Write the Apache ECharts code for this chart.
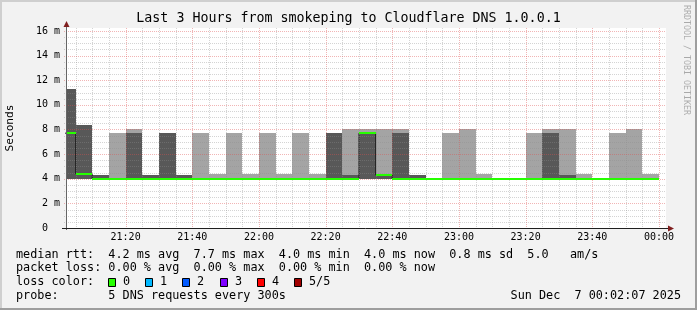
<!DOCTYPE html>
<html><head><meta charset="utf-8">
<script src="https://cdn.jsdelivr.net/npm/echarts@6/dist/echarts.min.js"></script>
<style>html,body{margin:0;padding:0;background:#f2f2f2}#c{width:697px;height:310px}</style>
</head><body><div id="c"></div>
<script>
// ---------------- data ----------------
const windowStart = '21:02:07';
const windowMinutes = 180;
const binStartTimes = ['21:00','21:05','21:10','21:15','21:20','21:25','21:30','21:35','21:40','21:45','21:50','21:55',
  '22:00','22:05','22:10','22:15','22:20','22:25','22:30','22:35','22:40','22:45','22:50','22:55',
  '23:00','23:05','23:10','23:15','23:20','23:25','23:30','23:35','23:40','23:45','23:50','23:55'];
const binMinutes = 5;
// smoke layers, ms
const smokeMin       = [4.0,4.0,4.0,4.0,4.0,4.0,4.0,4.0,4.0,4.0,4.0,4.0, 4.0,4.0,4.0,4.0,4.0,4.0,4.0,4.0,4.0,4.0,4.0,4.0, 4.0,4.0,4.0,4.0,4.0,4.0,4.0,4.0,4.0,4.0,4.0,4.0];
const smokeInnerLow  = [4.0,4.0,4.0,4.0,4.0,4.0,4.0,4.0,4.0,4.0,4.0,4.0, 4.0,4.0,4.0,4.0,4.0,4.0,4.0,4.0,4.0,4.0,4.0,4.0, 4.0,4.0,4.0,4.0,4.0,4.0,4.0,4.0,4.0,4.0,4.0,4.0];
const medianRtt      = [7.7,4.4,4.0,4.0,4.0,4.0,4.0,4.0,4.0,4.0,4.0,4.0, 4.0,4.0,4.0,4.0,4.0,4.0,7.7,4.3,4.0,4.0,4.0,4.0, 4.0,4.0,4.0,4.0,4.0,4.0,4.0,4.0,4.0,4.0,4.0,4.0];
const smokeInnerHigh = [11.3,8.4,4.3,4.0,7.7,4.3,7.7,4.3,4.0,4.0,4.0,4.0, 4.0,4.0,4.0,4.0,7.7,4.3,7.7,4.3,7.7,4.3,4.0,4.0, 4.0,4.0,4.0,4.0,4.0,7.7,4.3,4.0,4.0,4.0,4.0,4.0];
const smokeMax       = [11.3,8.4,4.3,7.7,8.0,4.3,7.7,4.3,7.7,4.4,7.7,4.4, 7.7,4.4,7.7,4.4,7.7,8.0,8.0,8.0,8.0,4.3,4.0,7.7, 8.0,4.4,4.0,4.0,7.7,8.0,8.0,4.4,4.0,7.7,8.0,4.4];
const xTickLabels = ['21:20','21:40','22:00','22:20','22:40','23:00','23:20','23:40','00:00'];
const yTickValues = [0,2,4,6,8,10,12,14,16];
const yTickLabels = ['0  ','2 m','4 m','6 m','8 m','10 m','12 m','14 m','16 m'];
const yMax = 16.24;
const lossLabels = ['0','1','2','3','4','5/5'];
const lossColors = ['#26ff00','#00b8ff','#0059ff','#7e00ff','#ff0000','#a10000'];
const titleText = 'Last 3 Hours from smokeping to Cloudflare DNS 1.0.0.1';
const statsLines = [
  'median rtt:  4.2 ms avg  7.7 ms max  4.0 ms min  4.0 ms now  0.8 ms sd  5.0   am/s',
  'packet loss: 0.00 % avg  0.00 % max  0.00 % min  0.00 % now',
  'loss color:',
  'probe:       5 DNS requests every 300s'
];
const dateText = 'Sun Dec  7 00:02:07 2025';

// ---------------- helpers ----------------
const FONT = '"DejaVu Sans Mono", monospace';
function toMin(t) {
  const p = t.split(':').map(Number);
  const h = p[0] < 12 ? p[0] + 24 : p[0];
  return h * 60 + p[1] + (p[2] || 0) / 60 - 21 * 60;
}
const xMin = toMin(windowStart);
const xMax = xMin + windowMinutes;
const xTickMinutes = xTickLabels.map(toMin);

const lightData = [], darkData = [], greenData = [], blackLine = [];
binStartTimes.forEach((t, i) => {
  const s = toMin(t), e = s + binMinutes;
  lightData.push([s, e, smokeMin[i], smokeMax[i]]);
  darkData.push([s, e, smokeInnerLow[i], smokeInnerHigh[i]]);
  greenData.push([s, e, medianRtt[i]]);
  blackLine.push([s, medianRtt[i]]);
  if (i === binStartTimes.length - 1) blackLine.push([e, medianRtt[i]]);
});

const gridData = [];
for (let m = binMinutes; m <= windowMinutes; m += binMinutes) gridData.push([m, 0, m % 20 === 0 ? 1 : 0]);
for (let v = 0.5; v <= 16; v += 0.5) gridData.push([v, 1, v % 2 === 0 ? 1 : 0]);

function smokeRender(color) {
  return function (params, api) {
    if (api.value(3) <= api.value(2)) return null;
    const s = Math.max(api.value(0), xMin);
    const p1 = api.coord([s, api.value(3)]);
    const p2 = api.coord([api.value(1), api.value(2)]);
    const x0 = Math.round(p1[0]), x1 = Math.round(p2[0]);
    const y0 = Math.round(p1[1]), y1 = Math.round(p2[1]);
    return { type: 'rect', shape: { x: x0, y: y0, width: x1 - x0, height: y1 - y0 }, style: { fill: color }, silent: true };
  };
}

const chart = echarts.init(document.getElementById('c'), null, { renderer: 'canvas', width: 697, height: 310 });
const graphics = [
  { type: 'rect', shape: { x: 0, y: 0, width: 697, height: 2 }, style: { fill: '#cfcfcf' }, z: 100 },
  { type: 'rect', shape: { x: 0, y: 0, width: 2, height: 310 }, style: { fill: '#cfcfcf' }, z: 100 },
  { type: 'rect', shape: { x: 0, y: 308, width: 697, height: 2 }, style: { fill: '#9e9e9e' }, z: 100 },
  { type: 'rect', shape: { x: 695, y: 0, width: 2, height: 310 }, style: { fill: '#9e9e9e' }, z: 100 },
  // axes + arrows
  { type: 'line', shape: { x1: 66.5, y1: 230, x2: 66.5, y2: 26 }, style: { stroke: '#666', lineWidth: 1 }, z: 100 },
  { type: 'line', shape: { x1: 62, y1: 228.5, x2: 669, y2: 228.5 }, style: { stroke: '#1f1f1f', lineWidth: 1 }, z: 100 },
  { type: 'polygon', shape: { points: [[63.5, 27], [69.5, 27], [66.5, 21]] }, style: { fill: '#801f1f' }, z: 100 },
  { type: 'polygon', shape: { points: [[668, 225.5], [668, 231.5], [674, 228.5]] }, style: { fill: '#801f1f' }, z: 100 },
  // title
  { type: 'text', x: 348.5, y: 19, style: { text: titleText, font: '13.3px ' + FONT, fill: '#000', align: 'center', verticalAlign: 'middle', textAlign: 'center', textVerticalAlign: 'middle' }, z: 100 },
  // y title
  { type: 'text', x: 10, y: 128, rotation: Math.PI / 2, style: { text: 'Seconds', font: '11.2px ' + FONT, fill: '#000', align: 'center', verticalAlign: 'middle', textAlign: 'center', textVerticalAlign: 'middle' }, z: 100 },
  // watermark
  { type: 'text', x: 686.5, y: 60, rotation: -Math.PI / 2, style: { text: 'RRDTOOL / TOBI OETIKER', font: '8.3px ' + FONT, fill: 'rgba(0,0,0,0.3)', align: 'center', verticalAlign: 'middle', textAlign: 'center', textVerticalAlign: 'middle' }, z: 100 },
  // date
  { type: 'text', x: 681, y: 295.9, style: { text: dateText, font: '11.8px ' + FONT, fill: '#000', align: 'right', verticalAlign: 'middle', textAlign: 'right', textVerticalAlign: 'middle' }, z: 100 }
];
const lineYs = [254.6, 268.4, 282.2, 295.9];
statsLines.forEach((t, i) => {
  graphics.push({ type: 'text', x: 16, y: lineYs[i], style: { text: t, font: '11.8px ' + FONT, fill: '#000', align: 'left', verticalAlign: 'middle', textAlign: 'left', textVerticalAlign: 'middle' }, z: 100 });
});
lossLabels.forEach((l, i) => {
  const bx = Math.round(108 + 37.2 * i);
  graphics.push({ type: 'rect', shape: { x: bx + 0.5, y: 278.5, width: 7, height: 8 }, style: { fill: lossColors[i], stroke: '#000', lineWidth: 1 }, z: 100 });
  graphics.push({ type: 'text', x: bx + 15, y: lineYs[2], style: { text: l, font: '11.8px ' + FONT, fill: '#000', align: 'left', verticalAlign: 'middle', textAlign: 'left', textVerticalAlign: 'middle' }, z: 100 });
});

chart.setOption({
  animation: false,
  backgroundColor: '#f2f2f2',
  grid: { left: 66, top: 28, width: 600, height: 200, show: true, backgroundColor: '#ffffff', borderWidth: 0 },
  xAxis: {
    type: 'value', min: xMin, max: xMax,
    axisLine: { show: false }, axisTick: { show: false }, splitLine: { show: false },
    axisLabel: {
      customValues: xTickMinutes,
      formatter: v => { const i = xTickMinutes.findIndex(m => Math.abs(m - v) < 1e-6); return i >= 0 ? xTickLabels[i] : ''; },
      fontFamily: FONT, fontSize: 10, color: '#000', margin: 4
    }
  },
  yAxis: {
    type: 'value', min: 0, max: yMax, interval: 2,
    axisLine: { show: false }, axisTick: { show: false }, splitLine: { show: false },
    axisLabel: {
      showMaxLabel: false,
      formatter: v => { const i = yTickValues.indexOf(v); return i >= 0 ? yTickLabels[i] : ''; },
      fontFamily: FONT, fontSize: 10, color: '#000', margin: 6
    }
  },
  series: [
    { type: 'custom', name: 'smoke outer', z: 1, data: lightData, renderItem: smokeRender('#a4a4a4') },
    { type: 'custom', name: 'smoke inner', z: 1, data: darkData, renderItem: smokeRender('#585858') },
    { type: 'line', name: 'median', z: 2, step: 'end', symbol: 'none', data: blackLine, lineStyle: { color: '#202020', width: 1 }, clip: true },
    { type: 'custom', name: 'grid', z: 3, data: gridData, silent: true,
      renderItem: (params, api) => {
        const v = api.value(0), horiz = api.value(1), major = api.value(2);
        let shape;
        if (!horiz) {
          const p = api.coord([v, yMax]), q = api.coord([v, 0]);
          const x = Math.round(p[0]) + 0.5;
          shape = { x1: x, y1: p[1], x2: x, y2: q[1] + 2 };
        } else {
          const p = api.coord([xMin, v]), q = api.coord([xMax, v]);
          const y = Math.round(p[1]) + 0.5;
          shape = { x1: p[0] - 2, y1: y, x2: q[0], y2: y };
        }
        return { type: 'line', shape, style: { stroke: major ? 'rgba(222,79,79,0.42)' : 'rgba(143,143,143,0.38)', lineWidth: 1, lineDash: [1, 1] } };
      } },
    { type: 'custom', name: 'median loss 0', z: 4, data: greenData, silent: true,
      renderItem: (params, api) => {
        const s = Math.max(api.value(0), xMin);
        const p = api.coord([s, api.value(2)]), q = api.coord([api.value(1), api.value(2)]);
        const y = Math.round(p[1]);
        return { type: 'line', shape: { x1: Math.round(p[0]), y1: y, x2: Math.round(q[0]), y2: y }, style: { stroke: lossColors[0], lineWidth: 2 } };
      } }
  ],
  graphic: graphics
});
</script></body></html>
